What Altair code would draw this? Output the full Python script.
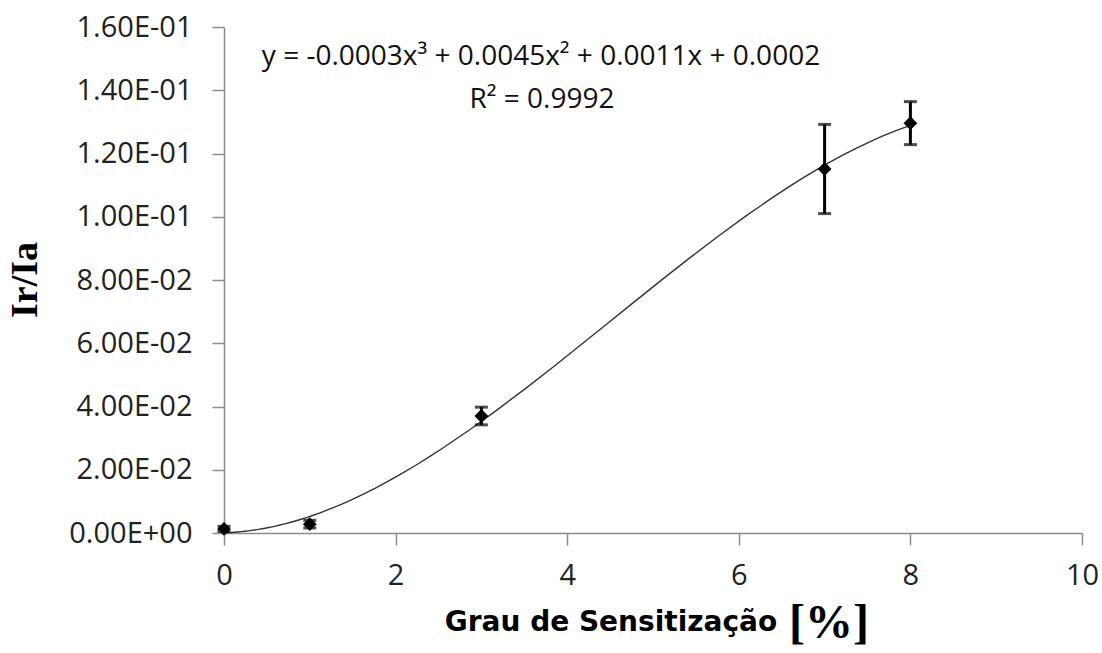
import altair as alt
import pandas as pd

# ---- data ----
x_vals = [0, 1, 3, 7, 8]
y_vals = [0.0013, 0.0028, 0.0370, 0.1151, 0.1296]
y_err = [0.0008, 0.0012, 0.0028, 0.0141, 0.0068]

x_ticks = [0, 2, 4, 6, 8, 10]
y_ticks = [0, 0.02, 0.04, 0.06, 0.08, 0.10, 0.12, 0.14, 0.16]
y_tick_labels = ["0.00E+00", "2.00E-02", "4.00E-02", "6.00E-02", "8.00E-02",
                 "1.00E-01", "1.20E-01", "1.40E-01", "1.60E-01"]

eq_text = "y = -0.0003x³ + 0.0045x² + 0.0011x + 0.0002"
r2_text = "R² = 0.9992"
x_title = "Grau de Sensitização"
x_unit = "[%]"
y_title = "Ir/Ia"

df = pd.DataFrame({
    "x": x_vals,
    "y": y_vals,
    "lo": [v - e for v, e in zip(y_vals, y_err)],
    "hi": [v + e for v, e in zip(y_vals, y_err)],
})

label_expr = "{labs}[indexof({vals}, datum.value)]".format(
    labs="[" + ",".join("'%s'" % s for s in y_tick_labels) + "]",
    vals="[" + ",".join(repr(v) for v in y_ticks) + "]",
)

AX = "#8c8c8c"
FONT = "Open Sans"

xs = alt.Scale(domain=[0, 10], nice=False, zero=False)
ys = alt.Scale(domain=[0, 0.16], nice=False)

xenc = alt.X("x:Q", scale=xs, axis=alt.Axis(
    values=x_ticks, format="d", title=None, grid=False, domainColor=AX, domainWidth=1.5,
    tickColor=AX, tickWidth=1.5, tickSize=12, labelFont=FONT, labelFontSize=29,
    labelColor="#222", labelPadding=16, labelFlush=False))
yenc = alt.Y("y:Q", scale=ys, axis=alt.Axis(
    values=y_ticks, title=None, grid=False, domainColor=AX, domainWidth=1.5,
    tickColor=AX, tickWidth=1.5, tickSize=12, labelFont=FONT, labelFontSize=29,
    labelColor="#222", labelPadding=20, labelExpr=label_expr, labelFlush=False))

base = alt.Chart(df)

curve = base.transform_regression("x", "y", method="poly", order=3).mark_line(
    color="#333", strokeWidth=1.4).encode(x=xenc, y=yenc)

bars = base.mark_rule(color="black", strokeWidth=3).encode(
    x=alt.X("x:Q", scale=xs), y=alt.Y("lo:Q", scale=ys), y2="hi:Q")
cap_lo = base.mark_tick(color="black", orient="horizontal", size=13, thickness=3).encode(
    x=alt.X("x:Q", scale=xs), y=alt.Y("lo:Q", scale=ys))
cap_hi = base.mark_tick(color="black", orient="horizontal", size=13, thickness=3).encode(
    x=alt.X("x:Q", scale=xs), y=alt.Y("hi:Q", scale=ys))

points = base.mark_point(shape="diamond", filled=True, color="black", size=190,
                         opacity=1).encode(x=alt.X("x:Q", scale=xs), y=alt.Y("y:Q", scale=ys))

def label(txt, px, py, **kw):
    return alt.Chart(pd.DataFrame({"t": [txt]})).mark_text(
        align="center", baseline="middle", **kw).encode(
        x=alt.value(px), y=alt.value(py), text="t:N")

eq = label(eq_text, 317, 30, font=FONT, fontSize=28, color="#111")
r2 = label(r2_text, 318, 73, font=FONT, fontSize=28, color="#111")
xt = label(x_title, 387, 596, font="DejaVu Sans", fontWeight="bold", fontSize=28, color="black")
xu = label(x_unit, 605, 597, font="Liberation Serif", fontWeight="bold", fontSize=48, color="black")
yt = label(y_title, -198, 253, font="Liberation Serif", fontWeight="bold", fontSize=38,
           color="black", angle=270)

chart = alt.layer(curve, bars, cap_lo, cap_hi, points, eq, r2, xt, xu, yt).properties(
    width=858, height=506,
    autosize=alt.AutoSizeParams(type="none"),
    padding={"left": 224, "top": 27, "right": 20, "bottom": 120},
    background="white",
).configure_view(stroke=None)

chart.save("out.html", embed_options={"renderer": "svg", "actions": False})
